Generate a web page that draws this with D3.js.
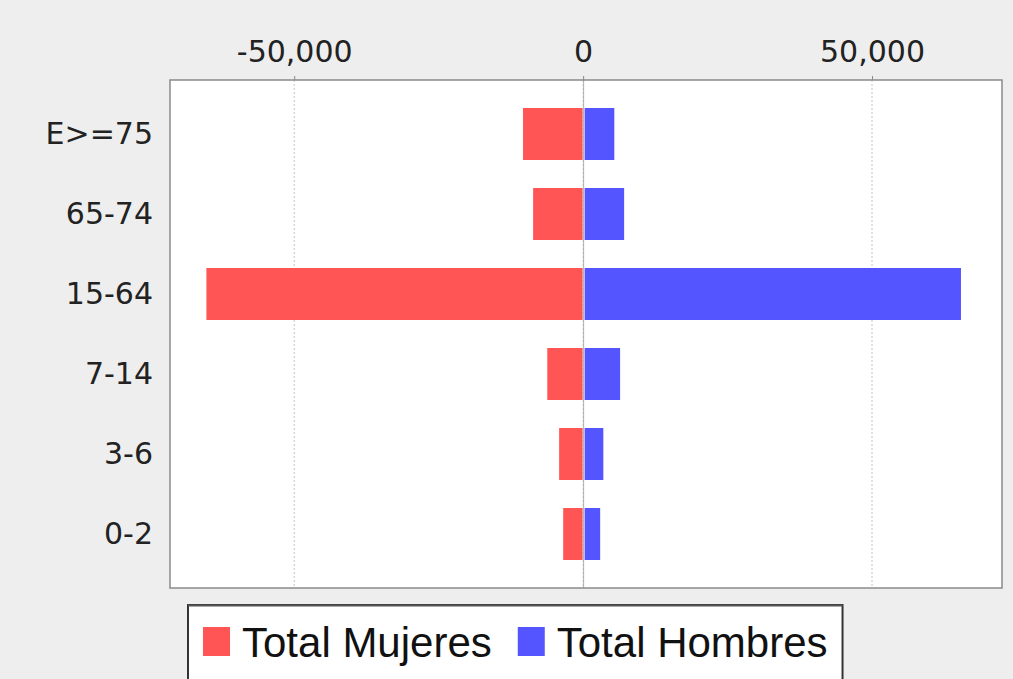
<!DOCTYPE html>
<html lang="es">
<head>
<meta charset="utf-8">
<script src="https://d3js.org/d3.v7.min.js"></script>
<style>
  body { margin: 0; padding: 0; background: #eeeeee; }
  svg { display: block; }
  .tick-label { font-family: "DejaVu Sans", sans-serif; font-size: 30px; fill: #222; }
  .legend-label { font-family: "Liberation Sans", Arial, sans-serif; font-size: 42px; fill: #111; }
</style>
</head>
<body>
<svg id="chart" width="1013" height="679"></svg>
<script>
// age groups, top to bottom
const categories = ["E>=75", "65-74", "15-64", "7-14", "3-6", "0-2"];
const mujeres = [-10400, -8650, -65200, -6200, -4150, -3450];
const hombres = [5400, 7100, 65400, 6400, 3500, 2950];
const xTicks = [-50000, 0, 50000];
const seriesNames = ["Total Mujeres", "Total Hombres"];
const colors = ["#ff5555", "#5555ff"];

const W = 1013, H = 679;
const plot = { left: 170, right: 1002, top: 80, bottom: 588 };

const svg = d3.select("#chart");
svg.append("rect").attr("width", W).attr("height", H).attr("fill", "#eeeeee");

const x = d3.scaleLinear().domain([-71500, 72500]).range([plot.left, plot.right]);
const y = d3.scaleBand().domain(categories)
            .range([plot.top, plot.bottom])
            .paddingInner(0.35).paddingOuter(0.35);

// plot background
svg.append("rect")
   .attr("x", plot.left).attr("y", plot.top)
   .attr("width", plot.right - plot.left).attr("height", plot.bottom - plot.top)
   .attr("fill", "#ffffff");

// gridlines
svg.append("g").selectAll("line")
   .data(xTicks).join("line")
   .attr("x1", d => x(d)).attr("x2", d => x(d))
   .attr("y1", plot.top).attr("y2", plot.bottom)
   .attr("stroke", "#c4c4c4").attr("stroke-width", 1)
   .attr("stroke-dasharray", "2,2");

// bars
const x0 = x(0);
svg.append("g").selectAll("rect")
   .data(mujeres).join("rect")
   .attr("x", d => x(d)).attr("width", d => x0 - x(d) - 0.5)
   .attr("y", (d, i) => y(categories[i])).attr("height", y.bandwidth())
   .attr("fill", colors[0]);
svg.append("g").selectAll("rect")
   .data(hombres).join("rect")
   .attr("x", x0 + 1.5).attr("width", d => x(d) - x0 - 1.5)
   .attr("y", (d, i) => y(categories[i])).attr("height", y.bandwidth())
   .attr("fill", colors[1]);
// zero line between the two series
svg.append("line")
   .attr("x1", x0 + 0.5).attr("x2", x0 + 0.5)
   .attr("y1", plot.top).attr("y2", plot.bottom)
   .attr("stroke", "#b0b0b0").attr("stroke-width", 1);

// plot border
svg.append("rect")
   .attr("x", plot.left).attr("y", plot.top)
   .attr("width", plot.right - plot.left).attr("height", plot.bottom - plot.top)
   .attr("fill", "none").attr("stroke", "#8a8a8a").attr("stroke-width", 1.5);

// top axis
const fmt = d3.format(",");
const xAxis = d3.axisTop(x).tickValues(xTicks)
                .tickFormat(d => fmt(d).replace("\u2212", "-"))
                .tickSizeInner(4).tickSizeOuter(0).tickPadding(14);
const gx = svg.append("g").attr("transform", `translate(0,${plot.top})`).call(xAxis);
gx.select(".domain").remove();
gx.selectAll(".tick line").attr("stroke", "#8a8a8a");
gx.selectAll(".tick text").attr("class", "tick-label").attr("fill", null);
gx.attr("font-family", null).attr("font-size", null);

// left axis
const yAxis = d3.axisLeft(y).tickSize(0).tickPadding(17);
const gy = svg.append("g").attr("transform", `translate(${plot.left},0)`).call(yAxis);
gy.select(".domain").remove();
gy.selectAll(".tick text").attr("class", "tick-label").attr("fill", null);
gy.attr("font-family", null).attr("font-size", null);

// legend
const legend = svg.append("g");
const box = legend.append("rect")
   .attr("x", 188).attr("y", 605).attr("height", 100)
   .attr("fill", "#ffffff").attr("stroke", "#333333").attr("stroke-width", 2);
const topEdge = legend.append("line")
   .attr("x1", 188).attr("y1", 605.5).attr("y2", 605.5)
   .attr("stroke", "#555").attr("stroke-width", 2);
let cx = 203;
seriesNames.forEach((name, i) => {
  legend.append("rect")
     .attr("x", cx).attr("y", 627).attr("width", 27).attr("height", 29)
     .attr("fill", colors[i]);
  const t = legend.append("text")
     .attr("class", "legend-label")
     .attr("x", cx + 39).attr("y", 657)
     .text(name);
  cx += 39 + t.node().getComputedTextLength() + 26;
});
const boxRight = cx - 26 + 15;
box.attr("width", boxRight - 188);
topEdge.attr("x2", boxRight);
</script>
</body>
</html>
